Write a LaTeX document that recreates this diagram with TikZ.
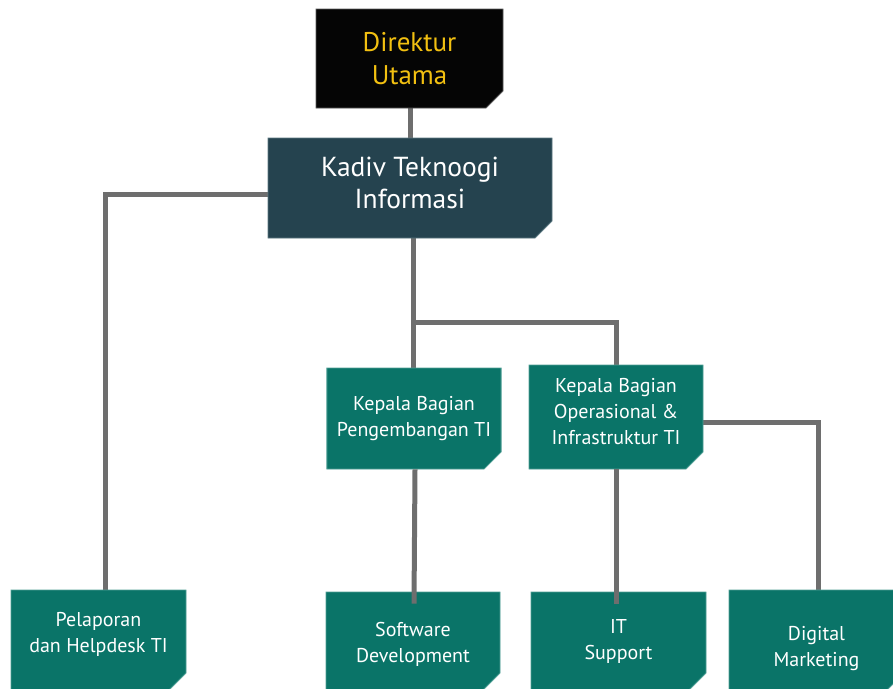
\documentclass[tikz,border=0pt]{standalone}
\usepackage{fontspec}
\setmainfont{PT Sans}
\usetikzlibrary{shapes.misc}
\definecolor{linkgray}{HTML}{6E6E6E}
\definecolor{topfill}{HTML}{050505}
\definecolor{topedge}{HTML}{5A5A5A}
\definecolor{gold}{HTML}{F2C011}
\definecolor{headfill}{HTML}{25434F}
\definecolor{headedge}{HTML}{5B7780}
\definecolor{unitfill}{HTML}{0A7468}
\definecolor{unitedge}{HTML}{4F9E94}
% shift a centred block of lines without changing its reported size
\newcommand{\liftlines}[2]{\raisebox{#1}[\height][\depth]{\begin{tabular}{@{}c@{}}#2\end{tabular}}}
\tikzset{
  orgbox/.style={chamfered rectangle, chamfered rectangle corners=south east,
    chamfered rectangle xsep=10pt, chamfered rectangle ysep=7pt,
    inner sep=0pt, line width=0.8pt, align=center, text=white},
  topbox/.style={orgbox, fill=topfill, draw=topedge, text=gold,
    font=\fontsize{27}{33}\selectfont},
  headbox/.style={orgbox, fill=headfill, draw=headedge,
    font=\fontsize{27.5}{32}\selectfont},
  unitbox/.style={orgbox, fill=unitfill, draw=unitedge,
    font=\fontsize{20}{26}\selectfont},
  link/.style={draw=linkgray, line width=5pt}
}
\begin{document}
\begin{tikzpicture}[x=1pt, y=-1pt]
\useasboundingbox (0,0) rectangle (893,688);
\clip (0,0) rectangle (893,688);

% connectors behind the upper boxes
\coordinate (split) at (413,322);
\draw[link] (410,100) -- (410,150);
\draw[link] (280,194) -| (105,600);
\draw[link] (413,230) -- (413,380);
\draw[link] (split) -| (616,380);
\draw[link] (690,422) -| (818,600);

% boxes
\node[topbox, minimum width=187pt, minimum height=99pt] (dir) at (409.5,58.5) {Direktur\\Utama};
\node[headbox, minimum width=284pt, minimum height=100pt] (kadiv) at (410,188) {\liftlines{2pt}{Kadiv Teknoogi\\Informasi}};
\node[unitbox, minimum width=174pt, minimum height=101pt] (kbp) at (414,418.5) {Kepala Bagian\\Pengembangan TI};
\node[unitbox, minimum width=174pt, minimum height=104pt] (kbo) at (616,417) {\liftlines{4pt}{Kepala Bagian\\Operasional \&\\Infrastruktur TI}};
\node[unitbox, minimum width=175pt, minimum height=100pt] (pel) at (98.5,640) {\liftlines{6pt}{Pelaporan\\dan Helpdesk TI}};
\node[unitbox, minimum width=174pt, minimum height=98pt] (sw) at (413,641) {\liftlines{-3pt}{Software\\Development}};
\node[unitbox, minimum width=175pt, minimum height=98pt] (its) at (618.5,641) {\liftlines{0pt}{IT\\Support}};
\node[unitbox, minimum width=175pt, minimum height=100pt] (dm) at (816.5,640) {\liftlines{-8pt}{Digital\\Marketing}};

% connectors that run over the tops of the lower boxes
\draw[link] ([xshift=1pt]kbp.south) -- ([xshift=1pt,yshift=-12pt]sw.north);
\draw[link] (kbo.south) -- ([xshift=-2.5pt,yshift=-12pt]its.north);
\end{tikzpicture}
\end{document}
